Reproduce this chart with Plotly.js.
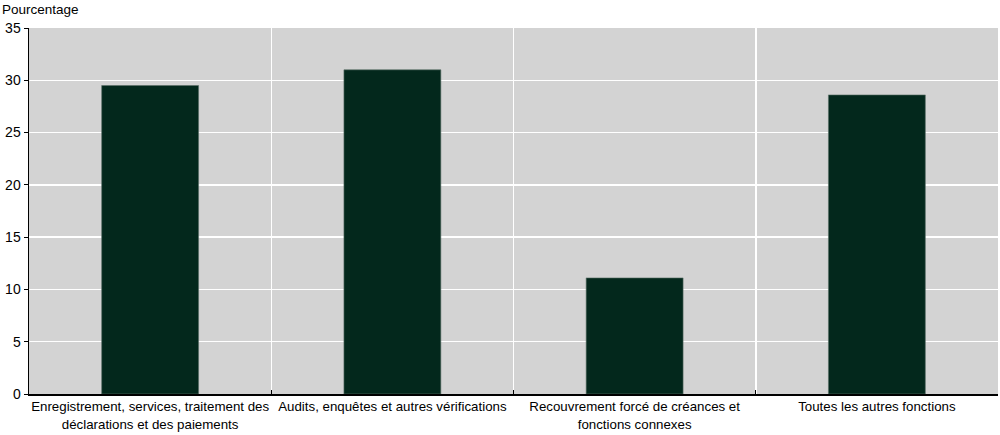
<!DOCTYPE html>
<html>
<head>
<meta charset="utf-8">
<script src="https://cdn.plot.ly/plotly-3.0.1.min.js"></script>
<style>body{margin:0;padding:0;background:#fff;}#chart{width:1000px;height:435px;}</style>
</head>
<body>
<div id="chart"></div>
<script>
const categories = [
  "Enregistrement, services, traitement des<br>déclarations et des paiements",
  "Audits, enquêtes et autres vérifications",
  "Recouvrement forcé de créances et<br>fonctions connexes",
  "Toutes les autres fonctions"
];
const values = [29.5, 31.0, 11.1, 28.6];
const yTicks = [0, 5, 10, 15, 20, 25, 30, 35];
const yTitle = "Pourcentage";

const FONT = "'Liberation Sans Narrow', 'Arial Narrow', 'Liberation Sans', Arial, sans-serif";

const trace = {
  type: "bar",
  x: categories,
  y: values,
  width: 0.4,
  marker: {color: "#03281c", line: {color: "#5a6e66", width: 0.6}},
  hoverinfo: "x+y"
};

const layout = {
  width: 1000, height: 435,
  margin: {l: 29, r: 2, t: 28, b: 41},
  paper_bgcolor: "#ffffff",
  plot_bgcolor: "#d3d3d3",
  showlegend: false,
  font: {family: FONT, size: 14, color: "#000"},
  xaxis: {
    type: "category",
    tickson: "boundaries",
    tickangle: 0,
    showgrid: true, gridcolor: "#ffffff", gridwidth: 1.5,
    ticks: "inside", ticklen: 4, tickcolor: "#000",
    showline: true, linecolor: "#000", linewidth: 1.5,
    tickfont: {family: FONT, size: 13.3, color: "#000"},
    automargin: false
  },
  yaxis: {
    range: [0, 35],
    tickvals: yTicks,
    ticktext: yTicks.map(String),
    showgrid: true, gridcolor: "#ffffff", gridwidth: 1.5,
    zeroline: false,
    ticks: "outside", ticklen: 4, tickcolor: "#000",
    showline: true, linecolor: "#000", linewidth: 1.5,
    tickfont: {family: FONT, size: 14, color: "#000"},
    automargin: false
  },
  annotations: [{
    text: yTitle, xref: "paper", yref: "paper",
    x: 0, y: 1, xanchor: "left", yanchor: "bottom",
    xshift: -29, yshift: 9, showarrow: false,
    font: {family: FONT, size: 13.5, color: "#000"}
  }]
};

Plotly.newPlot("chart", [trace], layout, {displayModeBar: false, staticPlot: true});
</script>
</body>
</html>
